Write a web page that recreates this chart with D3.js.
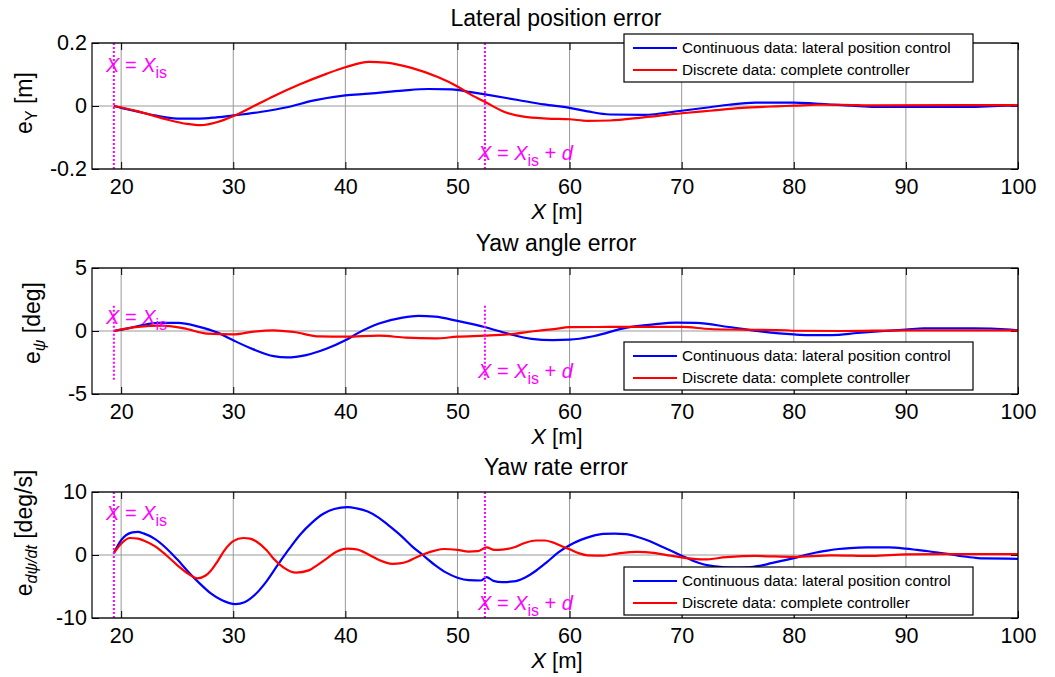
<!DOCTYPE html>
<html>
<head>
<meta charset="utf-8">
<script src="https://cdn.jsdelivr.net/npm/d3@7"></script>
<style>
  body { margin: 0; background: #fff; }
  text { font-family: "Liberation Sans", Arial, sans-serif; }
</style>
</head>
<body>
<svg id="fig" width="1055" height="677"></svg>
<script>
// ---- data -------------------------------------------------------------
const xTicks = [20, 30, 40, 50, 60, 70, 80, 90, 100];
const xDomain = [17.4, 100];
const xIs = 19.35;          // start of the lane change
const xIsD = 52.45;         // X_is + d

const seriesNames = ["Continuous data: lateral position control",
                     "Discrete data: complete controller"];
const seriesColors = ["#0000ff", "#ff0000"];

// lateral position error [m]
const latCont = [[19.35,0],[20,-0.006],[21.5,-0.018],[23,-0.03],[25,-0.040],[27,-0.040],[28.5,-0.036],
  [30,-0.030],[32.4,-0.019],[34.8,-0.004],[37.1,0.017],[40,0.034],[42.1,0.039],[45.1,0.049],[47.4,0.054],
  [49.5,0.053],[51.2,0.044],[52.6,0.036],[55.4,0.019],[57.7,0.005],[60,-0.006],[61.6,-0.017],[63.6,-0.027],
  [66.6,-0.028],[70,-0.015],[72.5,-0.004],[74.2,0.004],[76.6,0.011],[80,0.011],[81.9,0.008],[85.2,0.001],
  [87.2,-0.003],[95.5,-0.003],[99,0.001],[100,0.001]];
const latDisc = [[19.35,0],[21.5,-0.017],[23.9,-0.041],[25.9,-0.057],[27.1,-0.061],[28.6,-0.051],[30,-0.032],
  [31.8,-0.001],[33.6,0.031],[35.9,0.068],[38.3,0.102],[40,0.123],[42.1,0.140],[43.6,0.138],[45.9,0.121],
  [48.3,0.091],[50,0.062],[51.2,0.036],[52.6,0.010],[54.2,-0.019],[55.9,-0.034],[58,-0.040],[60,-0.042],
  [61.6,-0.047],[63.6,-0.046],[66.6,-0.036],[70,-0.023],[72.5,-0.015],[75.4,-0.006],[78.4,-0.001],
  [80,0.001],[82,0.004],[84.2,0.004],[87.2,0.002],[99.5,0.003],[100,0.002]];

// yaw angle error [deg]
const yawCont = [[19.35,0],[20.6,0.21],[21.8,0.45],[23.3,0.64],[25.1,0.64],[26.8,0.37],[28.6,-0.13],
  [30,-0.74],[31.8,-1.46],[33.6,-2.0],[34.8,-2.1],[36.5,-1.91],[38.3,-1.41],[40,-0.74],[41.2,-0.13],
  [43,0.59],[45.1,1.06],[46.5,1.2],[48,1.14],[50,0.8],[52.4,0.32],[54.5,-0.21],[56.6,-0.62],[58.5,-0.72],
  [60,-0.69],[62.2,-0.40],[65.1,0.27],[67.5,0.53],[69.5,0.66],[71.3,0.64],[74.2,0.32],[77.2,-0.05],
  [80,-0.27],[81.3,-0.32],[83.4,-0.32],[85.7,-0.16],[88.1,0],[90,0.11],[91.6,0.22],[96,0.22],
  [99.3,0.11],[100,0.06]];
const yawDisc = [[19.35,0],[21.5,0.32],[23.6,0.43],[25.6,0.21],[27.7,-0.21],[30,-0.27],[31.8,-0.05],
  [33.6,0.05],[35.4,-0.08],[37.7,-0.43],[40,-0.45],[43,-0.37],[45.4,-0.53],[48,-0.59],[50,-0.45],
  [52.4,-0.37],[54.5,-0.27],[56.8,-0.02],[58.6,0.15],[60,0.30],[63.6,0.32],[70,0.32],[72.5,0.16],
  [75.4,0.11],[79.3,0.06],[80,0.02],[84.2,0.0],[90,0.05],[99.3,0.05],[100,0.03]];

// yaw rate error [deg/s]
const rateCont = [[19.35,0.3],[20,2.35],[21,3.58],[21.5,3.68],[22,3.43],[23,2.56],[24,1.12],[25,-0.69],
  [26,-2.68],[27,-4.5],[28,-6.1],[29,-7.2],[30.2,-7.8],[31,-7.5],[32,-6.2],[33,-4.1],[34,-1.5],[35,1.0],
  [36,3.3],[37,5.1],[38,6.5],[39,7.3],[40.2,7.6],[41,7.4],[42,6.9],[43,5.9],[44,4.5],[45,3.0],[46,1.3],
  [46.9,0],[48,-1.6],[49,-2.8],[50,-3.6],[51,-4.0],[52.1,-4.05],[52.6,-3.5],[53.2,-4.1],[54,-4.3],
  [55,-4.2],[56,-3.6],[57,-2.5],[58,-1.1],[59,0.4],[60,1.55],[61,2.4],[62,3.0],[63,3.35],[64,3.4],
  [65,3.3],[66,2.9],[67,2.3],[68,1.5],[69,0.7],[70,-0.1],[71,-0.9],[72,-1.5],[73,-1.8],[74.5,-2.0],
  [76,-1.95],[77,-1.7],[78,-1.3],[79,-0.9],[80,-0.5],[81,0],[82,0.4],[83,0.7],[84,0.95],[85,1.1],
  [86.5,1.2],[88.5,1.2],[90,1.0],[91,0.8],[92,0.6],[93,0.35],[94,0.1],[95,-0.2],[96,-0.4],[97,-0.55],
  [100,-0.6]];
const rateDisc = [[19.35,0.3],[20,1.8],[20.8,2.7],[21.5,2.6],[22,2.3],[23,1.4],[24,0.0],[25,-1.6],
  [26,-3.0],[26.8,-3.7],[27.5,-3.3],[28,-2.5],[28.6,-1.0],[29.2,0.7],[30,2.2],[30.9,2.7],[31.5,2.6],
  [32.1,2.1],[33,0.7],[33.6,-0.6],[34.5,-2.0],[35.6,-2.8],[36.8,-2.4],[37.5,-1.6],[38.3,-0.6],[39.2,0.5],
  [40.2,1.0],[41,0.9],[42.1,0.05],[43,-0.8],[44.2,-1.4],[45,-1.3],[45.6,-1.0],[46.3,-0.4],[47.1,0.2],
  [48,0.7],[48.8,0.95],[50,0.8],[51,0.55],[51.8,0.6],[52.6,1.2],[53.3,0.8],[54,0.85],[55,1.2],[56,1.9],
  [57,2.3],[57.8,2.3],[58.5,2.0],[59.3,1.4],[60,0.9],[60.8,0.3],[61.6,-0.05],[63,-0.1],[64.5,0.3],
  [66,0.5],[67.5,0.35],[69,-0.1],[70.4,-0.5],[72,-0.7],[74,-0.35],[76.6,-0.15],[80,-0.3],[83.4,-0.05],
  [87,-0.15],[90,0.1],[95,0.15],[100,0.15]];

const panelTitles = ["Lateral position error", "Yaw angle error", "Yaw rate error"];
const yTickSets = [[-0.2, 0, 0.2], [-5, 0, 5], [-10, 0, 10]];
const yTickLabels = [["-0.2", "0", "0.2"], ["-5", "0", "5"], ["-10", "0", "10"]];

// ---- layout -----------------------------------------------------------
const svg = d3.select("#fig");
const left = 92, right = 1018;
const panels = [
  { top: 43,  bottom: 169, data: [latCont, latDisc],   ylab: "lat",  ylabX: 32, ylabY: 103, legendY: 34,  mark: [null, null], annA: 72,  annB: 160 },
  { top: 268, bottom: 394, data: [yawCont, yawDisc],   ylab: "yaw",  ylabX: 40, ylabY: 323, legendY: 342, mark: [2, -4],     annA: 324, annB: 378 },
  { top: 492, bottom: 618, data: [rateCont, rateDisc], ylab: "rate", ylabX: 32, ylabY: 533, legendY: 567, mark: [null, null], annA: 520, annB: 610 }
];

const x = d3.scaleLinear().domain(xDomain).range([left, right]);
const MAG = "#ff00ff";
const TICK_FS = 21.5, LABEL_FS = 23, XLABEL_FS = 22;

panels.forEach((p, i) => {
  const yt = yTickSets[i];
  const y = d3.scaleLinear().domain([yt[0], yt[2]]).range([p.bottom, p.top]);
  const g = svg.append("g");

  // white plot area
  g.append("rect").attr("x", left).attr("y", p.top)
    .attr("width", right - left).attr("height", p.bottom - p.top).attr("fill", "#fff");

  // grid
  g.append("g").selectAll("line").data(xTicks).join("line")
    .attr("x1", d => x(d)).attr("x2", d => x(d))
    .attr("y1", p.top).attr("y2", p.bottom)
    .attr("stroke", "#999").attr("stroke-width", 1);
  g.append("g").selectAll("line").data(yt).join("line")
    .attr("x1", left).attr("x2", right)
    .attr("y1", d => y(d)).attr("y2", d => y(d))
    .attr("stroke", "#999").attr("stroke-width", 1);

  // axes with inward ticks on all four sides
  const tl = 7;
  const ax = g.append("g").attr("transform", `translate(0,${p.bottom})`)
    .call(d3.axisBottom(x).tickValues(xTicks).tickSize(-tl).tickFormat(d3.format("d")));
  ax.select(".domain").remove();
  ax.selectAll("text").attr("font-size", TICK_FS).attr("fill", "#000").attr("y", 25).attr("dy", 0);
  ax.selectAll("line").attr("stroke", "#000");

  const axT = g.append("g").attr("transform", `translate(0,${p.top})`)
    .call(d3.axisTop(x).tickValues(xTicks).tickSize(-tl).tickFormat(""));
  axT.select(".domain").remove();
  axT.selectAll("line").attr("stroke", "#000");

  const ay = g.append("g").attr("transform", `translate(${left},0)`)
    .call(d3.axisLeft(y).tickValues(yt).tickSize(-tl)
      .tickFormat((d, k) => yTickLabels[i][k]));
  ay.select(".domain").remove();
  ay.selectAll("text").attr("font-size", TICK_FS).attr("fill", "#000").attr("x", -5);
  ay.selectAll("line").attr("stroke", "#000");

  const ayR = g.append("g").attr("transform", `translate(${right},0)`)
    .call(d3.axisRight(y).tickValues(yt).tickSize(-tl).tickFormat(""));
  ayR.select(".domain").remove();
  ayR.selectAll("line").attr("stroke", "#000");

  // curves
  const line = d3.line().x(d => x(d[0])).y(d => y(d[1])).curve(d3.curveMonotoneX);
  p.data.forEach((s, k) => {
    g.append("path").datum(s).attr("d", line)
      .attr("fill", "none").attr("stroke", seriesColors[k]).attr("stroke-width", 2.2);
  });

  // X = X_is and X = X_is + d markers
  const y1 = p.mark[0] === null ? p.top : y(p.mark[0]);
  const y2 = p.mark[1] === null ? p.bottom : y(p.mark[1]);
  [xIs, xIsD].forEach(v => {
    g.append("line").attr("x1", x(v)).attr("x2", x(v)).attr("y1", y1).attr("y2", y2)
      .attr("stroke", MAG).attr("stroke-width", 2).attr("stroke-dasharray", "2,2");
  });

  const ann = (tx, ty, withD) => {
    const t = g.append("text").attr("x", tx).attr("y", ty).attr("font-size", 20).attr("fill", MAG);
    t.append("tspan").attr("font-style", "italic").text("X");
    t.append("tspan").text(" = ");
    t.append("tspan").attr("font-style", "italic").text("X");
    t.append("tspan").attr("font-size", 16).attr("dy", 6).text("is");
    if (withD) {
      t.append("tspan").attr("dy", -6).text(" + ");
      t.append("tspan").attr("font-style", "italic").text("d");
    }
  };
  ann(106, p.annA, false);
  ann(478, p.annB, true);

  // box
  g.append("rect").attr("x", left).attr("y", p.top)
    .attr("width", right - left).attr("height", p.bottom - p.top)
    .attr("fill", "none").attr("stroke", "#000").attr("stroke-width", 1.2);

  // title
  svg.append("text").attr("x", (left + right) / 2 + 1).attr("y", p.top - 17)
    .attr("text-anchor", "middle").attr("font-size", LABEL_FS).text(panelTitles[i]);

  // x label
  const xl = svg.append("text").attr("x", (left + right) / 2 + 2).attr("y", p.bottom + 50)
    .attr("text-anchor", "middle").attr("font-size", XLABEL_FS);
  xl.append("tspan").attr("font-style", "italic").text("X");
  xl.append("tspan").text(" [m]");

  // y label
  const yl = svg.append("text").attr("transform", `translate(${p.ylabX},${p.ylabY}) rotate(-90)`)
    .attr("text-anchor", "middle").attr("font-size", LABEL_FS);
  yl.append("tspan").text("e");
  if (p.ylab === "lat") {
    yl.append("tspan").attr("font-size", 16).attr("dy", 5).text("Y");
    yl.append("tspan").attr("dy", -5).text(" [m]");
  } else if (p.ylab === "yaw") {
    yl.append("tspan").attr("font-size", 16).attr("dy", 5).attr("font-style", "italic").text("ψ");
    yl.append("tspan").attr("dy", -5).text(" [deg]");
  } else {
    yl.append("tspan").attr("font-size", 16).attr("dy", 5).attr("font-style", "italic").text("dψ/dt");
    yl.append("tspan").attr("dy", -5).text(" [deg/s]");
  }

  // legend
  const lx = 624, lw = 349, lh = 48;
  const lg = svg.append("g").attr("transform", `translate(${lx},${p.legendY})`);
  lg.append("rect").attr("width", lw).attr("height", lh)
    .attr("fill", "#fff").attr("stroke", "#000").attr("stroke-width", 1.2);
  seriesNames.forEach((name, k) => {
    const cy = 14 + k * 22;
    lg.append("line").attr("x1", 9).attr("x2", 53).attr("y1", cy).attr("y2", cy)
      .attr("stroke", seriesColors[k]).attr("stroke-width", 2.2);
    lg.append("text").attr("x", 58).attr("y", cy).attr("dy", "0.35em")
      .attr("font-size", 15.3).text(name);
  });
});
</script>
</body>
</html>
